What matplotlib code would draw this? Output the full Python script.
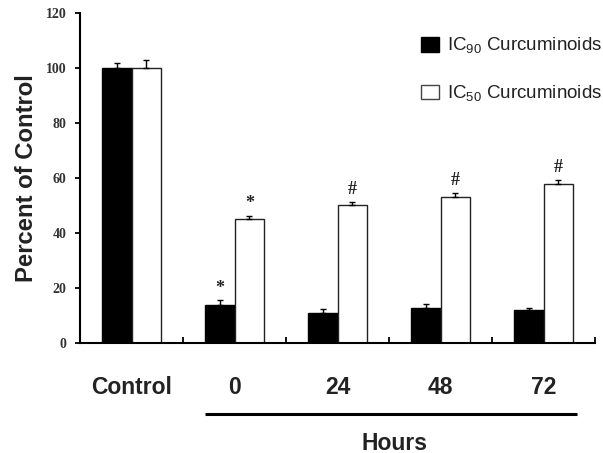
import matplotlib
matplotlib.use("Agg")
import matplotlib.pyplot as plt
from matplotlib.patches import Patch
import matplotlib.transforms as mtransforms
import numpy as np

# ---- data ----
categories = ["Control", "0", "24", "48", "72"]
ic90_values = [100, 14, 11, 12.8, 11.9]
ic90_errors = [2.0, 1.6, 1.2, 1.4, 0.7]
ic50_values = [100, 45.1, 50.2, 53.0, 57.8]
ic50_errors = [2.8, 1.1, 1.2, 1.6, 1.5]
ic90_marks = ["", "*", "", "", ""]
ic50_marks = ["", "*", "#", "#", "#"]
series_labels = [r"IC$_{\mathregular{90}}$ Curcuminoids", r"IC$_{\mathregular{50}}$ Curcuminoids"]
y_ticks = [0, 20, 40, 60, 80, 100, 120]
x_title = "Hours"
y_title = "Percent of Control"

plt.rcParams["mathtext.fontset"] = "custom"
plt.rcParams["mathtext.rm"] = "Liberation Sans"

fig = plt.figure(figsize=(6.03, 4.53), dpi=100)
ax = fig.add_axes([80/603, 1-343/453, 515/603, 330/453])

n = len(categories)
centers = np.arange(n) + 0.5
w = 0.29

ax.bar(centers - w/2, ic90_values, w, color="black", edgecolor="black", linewidth=1.0, zorder=2)
ax.bar(centers + w/2, ic50_values, w, color="white", edgecolor="#222222", linewidth=1.0, zorder=2)

ax.errorbar(centers - w/2, ic90_values, yerr=[np.zeros(n), ic90_errors], fmt="none",
            ecolor="black", elinewidth=1.0, capsize=2.5, capthick=1.0, zorder=3)
ax.errorbar(centers + w/2, ic50_values, yerr=[np.zeros(n), ic50_errors], fmt="none",
            ecolor="black", elinewidth=1.0, capsize=2.5, capthick=1.0, zorder=3)

for xs, vals, errs, marks in [(centers - w/2, ic90_values, ic90_errors, ic90_marks),
                              (centers + w/2, ic50_values, ic50_errors, ic50_marks)]:
    for x, v, e, m in zip(xs, vals, errs, marks):
        if m:
            ax.annotate(m, (x, v + e), xytext=(0, 2.5), textcoords="offset points",
                        ha="center", va="bottom", fontsize=13, fontweight="bold",
                        family="Liberation Serif", color="#222222")

ax.set_xlim(0, n)
ax.set_ylim(0, 120)
ax.set_yticks(y_ticks)
ax.set_yticklabels([str(t) for t in y_ticks], family="Liberation Serif",
                   fontweight="bold", fontsize=10, color="#333333")
ax.tick_params(axis="y", direction="out", length=3.6, width=1.3, pad=6)

ax.set_xticks(np.arange(n + 1))
ax.set_xticklabels([])
ax.tick_params(axis="x", which="major", direction="in", length=4, width=1.3)
ax.set_xticks(centers, minor=True)
ax.set_xticklabels(categories, minor=True, family="Liberation Sans",
                   fontweight="bold", fontsize=16.5, color="#222222")
ax.tick_params(axis="x", which="minor", length=0, pad=24)

for s in ["top", "right"]:
    ax.spines[s].set_visible(False)
for s in ["left", "bottom"]:
    ax.spines[s].set_linewidth(1.5)

ax.set_ylabel(y_title, family="Liberation Sans", fontweight="bold", fontsize=17.2,
              color="#222222", labelpad=6)

# Hours bracket line
ax.plot([1.21, 4.83], [0, 0], transform=ax.get_xaxis_transform() +
        mtransforms.ScaledTranslation(0, -71/100, fig.dpi_scale_trans),
        color="black", linewidth=2.2, clip_on=False, solid_capstyle="butt")
ax.text(3.05, 0, x_title, transform=ax.get_xaxis_transform() +
        mtransforms.ScaledTranslation(0, -100/100, fig.dpi_scale_trans),
        ha="center", va="center", family="Liberation Sans", fontweight="bold",
        fontsize=16.5, color="#222222")

handles = [Patch(facecolor="black", edgecolor="black"),
           Patch(facecolor="white", edgecolor="#444444")]
leg = fig.legend(handles, series_labels, loc="upper left", bbox_to_anchor=(421/603, 1-36/453),
                 frameon=False, prop={"family": "Liberation Sans", "size": 13.5},
                 handlelength=0.95, handleheight=0.8, handletextpad=0.45,
                 labelspacing=1.45, borderpad=0, borderaxespad=0)
for t in leg.get_texts():
    t.set_color("#222222")

fig.savefig("out.png", dpi=100)
